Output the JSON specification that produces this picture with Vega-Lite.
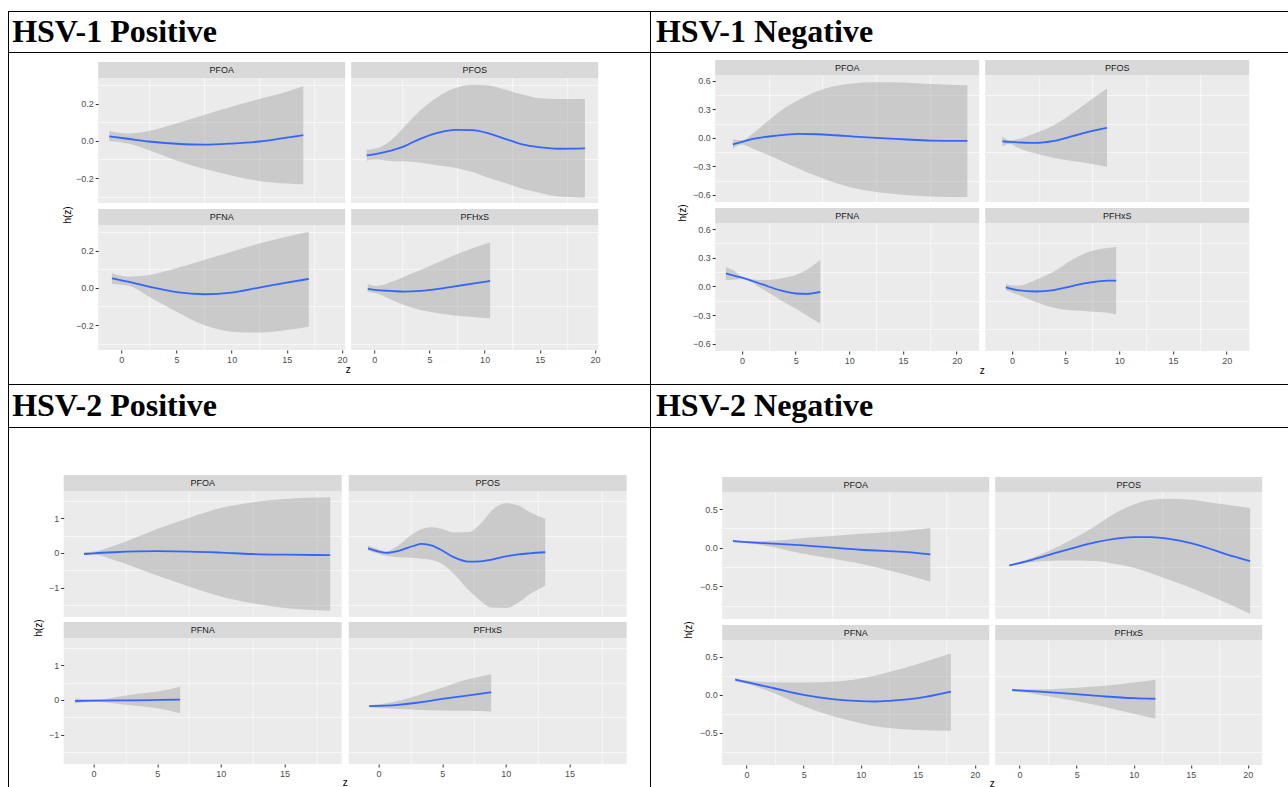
{
"$schema": "https://vega.github.io/schema/vega-lite/v6.json",
"padding": {"left": 8, "top": 11, "right": 0, "bottom": 0},
"background": "white",
"spacing": 0,
"config": {
  "font": "Liberation Sans",
  "view": {"stroke": null},
  "axis": {"domain": false, "grid": true, "gridColor": "white", "tickColor": "#333333", "tickSize": 3, "tickWidth": 1, "labelColor": "#4D4D4D", "labelFontSize": 9, "labelFont": "Liberation Sans", "labelPadding": 2}
},
"datasets": {
"q1": [
{"panel":"PFOA","z":-1.1,"est":0.025,"lo":0.0,"hi":0.054},
{"panel":"PFOA","z":0.6,"est":0.012,"lo":-0.014,"hi":0.04},
{"panel":"PFOA","z":2.5,"est":-0.003,"lo":-0.05,"hi":0.054},
{"panel":"PFOA","z":5,"est":-0.015,"lo":-0.105,"hi":0.094},
{"panel":"PFOA","z":7.5,"est":-0.02,"lo":-0.15,"hi":0.14},
{"panel":"PFOA","z":10,"est":-0.014,"lo":-0.186,"hi":0.185},
{"panel":"PFOA","z":12.5,"est":-0.003,"lo":-0.216,"hi":0.226},
{"panel":"PFOA","z":15,"est":0.018,"lo":-0.23,"hi":0.266},
{"panel":"PFOA","z":16.5,"est":0.031,"lo":-0.234,"hi":0.295},
{"panel":"PFOS","z":-0.7,"est":-0.078,"lo":-0.105,"hi":-0.047},
{"panel":"PFOS","z":0.2,"est":-0.07,"lo":-0.1,"hi":-0.04},
{"panel":"PFOS","z":1.5,"est":-0.052,"lo":-0.108,"hi":0.004},
{"panel":"PFOS","z":2.7,"est":-0.029,"lo":-0.11,"hi":0.076},
{"panel":"PFOS","z":4.2,"est":0.013,"lo":-0.117,"hi":0.167},
{"panel":"PFOS","z":5.8,"est":0.045,"lo":-0.132,"hi":0.24},
{"panel":"PFOS","z":7.3,"est":0.06,"lo":-0.145,"hi":0.284},
{"panel":"PFOS","z":8.9,"est":0.058,"lo":-0.168,"hi":0.304},
{"panel":"PFOS","z":10.4,"est":0.04,"lo":-0.2,"hi":0.3},
{"panel":"PFOS","z":12,"est":0.009,"lo":-0.23,"hi":0.275},
{"panel":"PFOS","z":13.5,"est":-0.02,"lo":-0.259,"hi":0.249},
{"panel":"PFOS","z":15,"est":-0.034,"lo":-0.28,"hi":0.23},
{"panel":"PFOS","z":16.6,"est":-0.042,"lo":-0.3,"hi":0.226},
{"panel":"PFOS","z":19.1,"est":-0.04,"lo":-0.306,"hi":0.226},
{"panel":"PFNA","z":-0.85,"est":0.052,"lo":0.022,"hi":0.079},
{"panel":"PFNA","z":0.6,"est":0.034,"lo":0.013,"hi":0.061},
{"panel":"PFNA","z":2.5,"est":0.007,"lo":-0.047,"hi":0.07},
{"panel":"PFNA","z":5,"est":-0.023,"lo":-0.128,"hi":0.106},
{"panel":"PFNA","z":7.5,"est":-0.034,"lo":-0.2,"hi":0.151},
{"panel":"PFNA","z":10,"est":-0.025,"lo":-0.236,"hi":0.196},
{"panel":"PFNA","z":12.5,"est":0.002,"lo":-0.241,"hi":0.24},
{"panel":"PFNA","z":15,"est":0.029,"lo":-0.227,"hi":0.277},
{"panel":"PFNA","z":17,"est":0.049,"lo":-0.209,"hi":0.304},
{"panel":"PFHxS","z":-0.6,"est":-0.005,"lo":-0.02,"hi":0.02},
{"panel":"PFHxS","z":0.2,"est":-0.012,"lo":-0.029,"hi":0.011},
{"panel":"PFHxS","z":1.45,"est":-0.016,"lo":-0.061,"hi":0.031},
{"panel":"PFHxS","z":2.7,"est":-0.02,"lo":-0.092,"hi":0.061},
{"panel":"PFHxS","z":4.2,"est":-0.016,"lo":-0.119,"hi":0.097},
{"panel":"PFHxS","z":5.8,"est":-0.005,"lo":-0.137,"hi":0.139},
{"panel":"PFHxS","z":7.3,"est":0.009,"lo":-0.149,"hi":0.178},
{"panel":"PFHxS","z":8.9,"est":0.023,"lo":-0.157,"hi":0.214},
{"panel":"PFHxS","z":10.5,"est":0.038,"lo":-0.164,"hi":0.245}
],
"q2": [
{"panel":"PFOA","z":-0.85,"est":-0.067,"lo":-0.113,"hi":-0.014},
{"panel":"PFOA","z":0,"est":-0.042,"lo":-0.07,"hi":-0.025},
{"panel":"PFOA","z":1,"est":-0.01,"lo":-0.113,"hi":0.046},
{"panel":"PFOA","z":2.5,"est":0.015,"lo":-0.183,"hi":0.187},
{"panel":"PFOA","z":3.9,"est":0.032,"lo":-0.253,"hi":0.31},
{"panel":"PFOA","z":5.3,"est":0.042,"lo":-0.324,"hi":0.403},
{"panel":"PFOA","z":7,"est":0.039,"lo":-0.405,"hi":0.491},
{"panel":"PFOA","z":8.7,"est":0.028,"lo":-0.475,"hi":0.547},
{"panel":"PFOA","z":10,"est":0.018,"lo":-0.517,"hi":0.572},
{"panel":"PFOA","z":12.5,"est":0.0,"lo":-0.57,"hi":0.586},
{"panel":"PFOA","z":15,"est":-0.014,"lo":-0.598,"hi":0.583},
{"panel":"PFOA","z":17.6,"est":-0.028,"lo":-0.616,"hi":0.568},
{"panel":"PFOA","z":21,"est":-0.032,"lo":-0.623,"hi":0.556},
{"panel":"PFOS","z":-0.9,"est":-0.035,"lo":-0.088,"hi":0.018},
{"panel":"PFOS","z":-0.2,"est":-0.042,"lo":-0.06,"hi":-0.025},
{"panel":"PFOS","z":0.5,"est":-0.046,"lo":-0.102,"hi":-0.014},
{"panel":"PFOS","z":2.2,"est":-0.053,"lo":-0.165,"hi":0.053},
{"panel":"PFOS","z":3.9,"est":-0.032,"lo":-0.211,"hi":0.134},
{"panel":"PFOS","z":5.6,"est":0.018,"lo":-0.243,"hi":0.257},
{"panel":"PFOS","z":7.3,"est":0.07,"lo":-0.271,"hi":0.398},
{"panel":"PFOS","z":8.85,"est":0.106,"lo":-0.306,"hi":0.521},
{"panel":"PFNA","z":-1.5,"est":0.137,"lo":0.067,"hi":0.2},
{"panel":"PFNA","z":-0.85,"est":0.115,"lo":0.07,"hi":0.172},
{"panel":"PFNA","z":0,"est":0.092,"lo":0.077,"hi":0.102},
{"panel":"PFNA","z":1.9,"est":0.021,"lo":-0.028,"hi":0.067},
{"panel":"PFNA","z":3.6,"est":-0.042,"lo":-0.144,"hi":0.084},
{"panel":"PFNA","z":5,"est":-0.074,"lo":-0.232,"hi":0.12},
{"panel":"PFNA","z":6,"est":-0.077,"lo":-0.302,"hi":0.172},
{"panel":"PFNA","z":7.3,"est":-0.056,"lo":-0.39,"hi":0.278},
{"panel":"PFHxS","z":-0.57,"est":-0.01,"lo":-0.039,"hi":0.025},
{"panel":"PFHxS","z":0.5,"est":-0.039,"lo":-0.085,"hi":0.007},
{"panel":"PFHxS","z":2.2,"est":-0.053,"lo":-0.162,"hi":0.067},
{"panel":"PFHxS","z":3.9,"est":-0.039,"lo":-0.222,"hi":0.155},
{"panel":"PFHxS","z":5.6,"est":0.004,"lo":-0.25,"hi":0.279},
{"panel":"PFHxS","z":7.3,"est":0.042,"lo":-0.261,"hi":0.367},
{"panel":"PFHxS","z":8.9,"est":0.06,"lo":-0.275,"hi":0.402},
{"panel":"PFHxS","z":9.7,"est":0.06,"lo":-0.293,"hi":0.413}
],
"q3": [
{"panel":"PFOA","z":-0.75,"est":-0.03,"lo":-0.06,"hi":0.02},
{"panel":"PFOA","z":0,"est":-0.01,"lo":-0.05,"hi":0.04},
{"panel":"PFOA","z":1.6,"est":0.02,"lo":-0.2,"hi":0.21},
{"panel":"PFOA","z":5,"est":0.05,"lo":-0.65,"hi":0.69},
{"panel":"PFOA","z":7.6,"est":0.04,"lo":-0.98,"hi":1.02},
{"panel":"PFOA","z":10,"est":0.01,"lo":-1.25,"hi":1.29},
{"panel":"PFOA","z":12.4,"est":-0.03,"lo":-1.44,"hi":1.45},
{"panel":"PFOA","z":15,"est":-0.05,"lo":-1.58,"hi":1.55},
{"panel":"PFOA","z":18.6,"est":-0.06,"lo":-1.66,"hi":1.6},
{"panel":"PFOS","z":-0.83,"est":0.13,"lo":0.07,"hi":0.21},
{"panel":"PFOS","z":0,"est":0.04,"lo":-0.03,"hi":0.11},
{"panel":"PFOS","z":0.6,"est":0.0,"lo":-0.08,"hi":0.05},
{"panel":"PFOS","z":1.5,"est":0.05,"lo":-0.12,"hi":0.21},
{"panel":"PFOS","z":2.7,"est":0.2,"lo":-0.14,"hi":0.55},
{"panel":"PFOS","z":3.4,"est":0.26,"lo":-0.17,"hi":0.69},
{"panel":"PFOS","z":4.2,"est":0.21,"lo":-0.2,"hi":0.74},
{"panel":"PFOS","z":5,"est":0.07,"lo":-0.32,"hi":0.69},
{"panel":"PFOS","z":5.9,"est":-0.12,"lo":-0.6,"hi":0.59},
{"panel":"PFOS","z":7.1,"est":-0.25,"lo":-1.08,"hi":0.6},
{"panel":"PFOS","z":8,"est":-0.24,"lo":-1.37,"hi":0.83},
{"panel":"PFOS","z":8.9,"est":-0.19,"lo":-1.57,"hi":1.22},
{"panel":"PFOS","z":10,"est":-0.1,"lo":-1.58,"hi":1.43},
{"panel":"PFOS","z":11,"est":-0.04,"lo":-1.42,"hi":1.36},
{"panel":"PFOS","z":11.9,"est":-0.01,"lo":-1.18,"hi":1.17},
{"panel":"PFOS","z":13.1,"est":0.02,"lo":-0.94,"hi":0.98},
{"panel":"PFNA","z":-1.45,"est":-0.03,"lo":-0.1,"hi":0.05},
{"panel":"PFNA","z":0,"est":-0.02,"lo":-0.05,"hi":0.01},
{"panel":"PFNA","z":3.1,"est":-0.01,"lo":-0.16,"hi":0.16},
{"panel":"PFNA","z":5,"est":0.0,"lo":-0.24,"hi":0.24},
{"panel":"PFNA","z":6.8,"est":0.01,"lo":-0.38,"hi":0.38},
{"panel":"PFHxS","z":-0.74,"est":-0.18,"lo":-0.22,"hi":-0.16},
{"panel":"PFHxS","z":1.5,"est":-0.14,"lo":-0.26,"hi":-0.03},
{"panel":"PFHxS","z":3,"est":-0.08,"lo":-0.28,"hi":0.12},
{"panel":"PFHxS","z":5,"est":0.03,"lo":-0.3,"hi":0.35},
{"panel":"PFHxS","z":6.8,"est":0.12,"lo":-0.31,"hi":0.57},
{"panel":"PFHxS","z":8.85,"est":0.22,"lo":-0.33,"hi":0.74}
],
"q4": [
{"panel":"PFOA","z":-1.2,"est":0.086,"lo":0.073,"hi":0.108},
{"panel":"PFOA","z":0,"est":0.073,"lo":0.06,"hi":0.086},
{"panel":"PFOA","z":1.5,"est":0.06,"lo":0.03,"hi":0.086},
{"panel":"PFOA","z":5,"est":0.03,"lo":-0.078,"hi":0.125},
{"panel":"PFOA","z":10,"est":-0.026,"lo":-0.207,"hi":0.181},
{"panel":"PFOA","z":15,"est":-0.069,"lo":-0.39,"hi":0.237},
{"panel":"PFOA","z":16.1,"est":-0.086,"lo":-0.435,"hi":0.259},
{"panel":"PFOS","z":-0.9,"est":-0.228,"lo":-0.241,"hi":-0.216},
{"panel":"PFOS","z":1.1,"est":-0.155,"lo":-0.185,"hi":-0.129},
{"panel":"PFOS","z":3.4,"est":-0.056,"lo":-0.164,"hi":0.017},
{"panel":"PFOS","z":5,"est":0.009,"lo":-0.164,"hi":0.138},
{"panel":"PFOS","z":6.7,"est":0.073,"lo":-0.172,"hi":0.289},
{"panel":"PFOS","z":8.3,"est":0.116,"lo":-0.207,"hi":0.44},
{"panel":"PFOS","z":10,"est":0.138,"lo":-0.259,"hi":0.56},
{"panel":"PFOS","z":11.5,"est":0.138,"lo":-0.328,"hi":0.62},
{"panel":"PFOS","z":13.1,"est":0.116,"lo":-0.414,"hi":0.634},
{"panel":"PFOS","z":15,"est":0.06,"lo":-0.517,"hi":0.62},
{"panel":"PFOS","z":16.4,"est":0.0,"lo":-0.603,"hi":0.59},
{"panel":"PFOS","z":18,"est":-0.078,"lo":-0.703,"hi":0.56},
{"panel":"PFOS","z":20.2,"est":-0.172,"lo":-0.853,"hi":0.513},
{"panel":"PFNA","z":-1,"est":0.2,"lo":0.179,"hi":0.222},
{"panel":"PFNA","z":0,"est":0.167,"lo":0.145,"hi":0.19},
{"panel":"PFNA","z":2.4,"est":0.087,"lo":0.021,"hi":0.165},
{"panel":"PFNA","z":5,"est":0.0,"lo":-0.15,"hi":0.162},
{"panel":"PFNA","z":7.5,"est":-0.056,"lo":-0.278,"hi":0.171},
{"panel":"PFNA","z":10,"est":-0.083,"lo":-0.372,"hi":0.214},
{"panel":"PFNA","z":11.2,"est":-0.087,"lo":-0.408,"hi":0.25},
{"panel":"PFNA","z":12.5,"est":-0.078,"lo":-0.436,"hi":0.299},
{"panel":"PFNA","z":15,"est":-0.043,"lo":-0.462,"hi":0.406},
{"panel":"PFNA","z":17.9,"est":0.043,"lo":-0.47,"hi":0.543},
{"panel":"PFHxS","z":-0.65,"est":0.064,"lo":0.051,"hi":0.077},
{"panel":"PFHxS","z":1.8,"est":0.043,"lo":0.0,"hi":0.073},
{"panel":"PFHxS","z":5,"est":0.009,"lo":-0.085,"hi":0.094},
{"panel":"PFHxS","z":7.5,"est":-0.021,"lo":-0.158,"hi":0.12},
{"panel":"PFHxS","z":10,"est":-0.043,"lo":-0.248,"hi":0.162},
{"panel":"PFHxS","z":11.9,"est":-0.051,"lo":-0.312,"hi":0.2}
]
},
"vconcat": [
{"hconcat": [
 {"vconcat": [
  {"hconcat": [
    {"width": 1, "height": 42, "data": {"values": [{}]}, "mark": {"type": "rect", "opacity": 0}, "encoding": {}, "view": {"fill": "black"}},
    {"vconcat": [
      {"width": 641, "height": 1, "data": {"values": [{}]}, "mark": {"type": "rect", "opacity": 0}, "encoding": {}, "view": {"fill": "black"}},
      {"width": 211, "height": 40, "data": {"values": [{}]}, "mark": {"type": "text", "text": "HSV-1 Positive", "font": "Liberation Serif", "fontSize": 32, "fontWeight": "bold", "color": "black"}},
      {"width": 641, "height": 1, "data": {"values": [{}]}, "mark": {"type": "rect", "opacity": 0}, "encoding": {}, "view": {"fill": "black"}}
    ], "spacing": 0}
  ], "spacing": 0},
  {"hconcat": [
    {"width": 1, "height": 331, "data": {"values": [{}]}, "mark": {"type": "rect", "opacity": 0}, "encoding": {}, "view": {"fill": "black"}},
    {"hconcat": [
      {"vconcat": [
        {"width": 14, "height": 142, "data": {"values": [{}]}, "mark": {"type": "rect", "opacity": 0}, "encoding": {}},
        {"width": 14, "height": 40, "data": {"values": [{}]}, "mark": {"type": "text", "text": "h(z)", "angle": 270, "fontSize": 10, "color": "black"}}
      ], "spacing": 0},
      {"vconcat": [
        {"width": 1, "height": 9, "data": {"values": [{}]}, "mark": {"type": "rect", "opacity": 0}, "encoding": {}},
        {"concat": [
          {"vconcat": [
            {"width": 247, "height": 16, "data": {"values": [{}]}, "mark": {"type": "text", "text": "PFOA", "fontSize": 9, "color": "#1A1A1A"}, "view": {"fill": "#D9D9D9"}},
            {"width": 247, "height": 125, "data": {"name": "q1"}, "transform": [{"filter": {"field": "panel", "equal": "PFOA"}}], "view": {"fill": "#EBEBEB"},
             "layer": [
              {"mark": {"type": "area", "fill": "#999999", "opacity": 0.4, "interpolate": "monotone"},
               "encoding": {"x": {"field": "z", "type": "quantitative", "scale": {"domain": [-2.1, 20.3], "nice": false, "zero": false}, "axis": {"orient": "bottom", "values": [2.5, 7.5, 12.5, 17.5], "gridWidth": 0.6, "labels": false, "ticks": false, "title": null}},
                            "y": {"field": "lo", "type": "quantitative", "scale": {"domain": [-0.335, 0.34], "nice": false, "zero": false}, "axis": {"orient": "left", "values": [-0.3, -0.1, 0.1, 0.3], "gridWidth": 0.6, "labels": false, "ticks": false, "title": null}},
                            "y2": {"field": "hi"}}},
              {"mark": {"type": "line", "color": "#3366FF", "strokeWidth": 1.8, "interpolate": "monotone"},
               "encoding": {"x": {"field": "z", "type": "quantitative", "scale": {"domain": [-2.1, 20.3], "nice": false, "zero": false}, "axis": {"orient": "bottom", "values": [0, 5, 10, 15, 20], "gridWidth": 1.2, "labels": false, "ticks": false, "title": null}},
                            "y": {"field": "est", "type": "quantitative", "scale": {"domain": [-0.335, 0.34], "nice": false, "zero": false}, "axis": {"orient": "left", "values": [-0.2, 0, 0.2], "gridWidth": 1.2, "format": ".1f", "title": null}}}}
             ],
             "resolve": {"axis": {"x": "independent", "y": "independent"}}}
          ], "spacing": 0},
          {"vconcat": [
            {"width": 247, "height": 16, "data": {"values": [{}]}, "mark": {"type": "text", "text": "PFOS", "fontSize": 9, "color": "#1A1A1A"}, "view": {"fill": "#D9D9D9"}},
            {"width": 247, "height": 125, "data": {"name": "q1"}, "transform": [{"filter": {"field": "panel", "equal": "PFOS"}}], "view": {"fill": "#EBEBEB"},
             "layer": [
              {"mark": {"type": "area", "fill": "#999999", "opacity": 0.4, "interpolate": "monotone"},
               "encoding": {"x": {"field": "z", "type": "quantitative", "scale": {"domain": [-2.1, 20.3], "nice": false, "zero": false}, "axis": {"orient": "bottom", "values": [2.5, 7.5, 12.5, 17.5], "gridWidth": 0.6, "labels": false, "ticks": false, "title": null}},
                            "y": {"field": "lo", "type": "quantitative", "scale": {"domain": [-0.335, 0.34], "nice": false, "zero": false}, "axis": {"orient": "left", "values": [-0.3, -0.1, 0.1, 0.3], "gridWidth": 0.6, "labels": false, "ticks": false, "title": null}},
                            "y2": {"field": "hi"}}},
              {"mark": {"type": "line", "color": "#3366FF", "strokeWidth": 1.8, "interpolate": "monotone"},
               "encoding": {"x": {"field": "z", "type": "quantitative", "scale": {"domain": [-2.1, 20.3], "nice": false, "zero": false}, "axis": {"orient": "bottom", "values": [0, 5, 10, 15, 20], "gridWidth": 1.2, "labels": false, "ticks": false, "title": null}},
                            "y": {"field": "est", "type": "quantitative", "scale": {"domain": [-0.335, 0.34], "nice": false, "zero": false}, "axis": {"orient": "left", "values": [-0.2, 0, 0.2], "gridWidth": 1.2, "labels": false, "ticks": false, "title": null}}}}
             ],
             "resolve": {"axis": {"x": "independent", "y": "independent"}}}
          ], "spacing": 0},
          {"vconcat": [
            {"width": 247, "height": 16, "data": {"values": [{}]}, "mark": {"type": "text", "text": "PFNA", "fontSize": 9, "color": "#1A1A1A"}, "view": {"fill": "#D9D9D9"}},
            {"width": 247, "height": 125, "data": {"name": "q1"}, "transform": [{"filter": {"field": "panel", "equal": "PFNA"}}], "view": {"fill": "#EBEBEB"},
             "layer": [
              {"mark": {"type": "area", "fill": "#999999", "opacity": 0.4, "interpolate": "monotone"},
               "encoding": {"x": {"field": "z", "type": "quantitative", "scale": {"domain": [-2.1, 20.3], "nice": false, "zero": false}, "axis": {"orient": "bottom", "values": [2.5, 7.5, 12.5, 17.5], "gridWidth": 0.6, "labels": false, "ticks": false, "title": null}},
                            "y": {"field": "lo", "type": "quantitative", "scale": {"domain": [-0.335, 0.34], "nice": false, "zero": false}, "axis": {"orient": "left", "values": [-0.3, -0.1, 0.1, 0.3], "gridWidth": 0.6, "labels": false, "ticks": false, "title": null}},
                            "y2": {"field": "hi"}}},
              {"mark": {"type": "line", "color": "#3366FF", "strokeWidth": 1.8, "interpolate": "monotone"},
               "encoding": {"x": {"field": "z", "type": "quantitative", "scale": {"domain": [-2.1, 20.3], "nice": false, "zero": false}, "axis": {"orient": "bottom", "values": [0, 5, 10, 15, 20], "gridWidth": 1.2, "format": "d", "title": null}},
                            "y": {"field": "est", "type": "quantitative", "scale": {"domain": [-0.335, 0.34], "nice": false, "zero": false}, "axis": {"orient": "left", "values": [-0.2, 0, 0.2], "gridWidth": 1.2, "format": ".1f", "title": null}}}}
             ],
             "resolve": {"axis": {"x": "independent", "y": "independent"}}}
          ], "spacing": 0},
          {"vconcat": [
            {"width": 247, "height": 16, "data": {"values": [{}]}, "mark": {"type": "text", "text": "PFHxS", "fontSize": 9, "color": "#1A1A1A"}, "view": {"fill": "#D9D9D9"}},
            {"width": 247, "height": 125, "data": {"name": "q1"}, "transform": [{"filter": {"field": "panel", "equal": "PFHxS"}}], "view": {"fill": "#EBEBEB"},
             "layer": [
              {"mark": {"type": "area", "fill": "#999999", "opacity": 0.4, "interpolate": "monotone"},
               "encoding": {"x": {"field": "z", "type": "quantitative", "scale": {"domain": [-2.1, 20.3], "nice": false, "zero": false}, "axis": {"orient": "bottom", "values": [2.5, 7.5, 12.5, 17.5], "gridWidth": 0.6, "labels": false, "ticks": false, "title": null}},
                            "y": {"field": "lo", "type": "quantitative", "scale": {"domain": [-0.335, 0.34], "nice": false, "zero": false}, "axis": {"orient": "left", "values": [-0.3, -0.1, 0.1, 0.3], "gridWidth": 0.6, "labels": false, "ticks": false, "title": null}},
                            "y2": {"field": "hi"}}},
              {"mark": {"type": "line", "color": "#3366FF", "strokeWidth": 1.8, "interpolate": "monotone"},
               "encoding": {"x": {"field": "z", "type": "quantitative", "scale": {"domain": [-2.1, 20.3], "nice": false, "zero": false}, "axis": {"orient": "bottom", "values": [0, 5, 10, 15, 20], "gridWidth": 1.2, "format": "d", "title": null}},
                            "y": {"field": "est", "type": "quantitative", "scale": {"domain": [-0.335, 0.34], "nice": false, "zero": false}, "axis": {"orient": "left", "values": [-0.2, 0, 0.2], "gridWidth": 1.2, "labels": false, "ticks": false, "title": null}}}}
             ],
             "resolve": {"axis": {"x": "independent", "y": "independent"}}}
          ], "spacing": 0}
        ], "columns": 2, "align": "each", "spacing": {"row": 6, "column": 4}},
        {"width": 500, "height": 12, "data": {"values": [{}]}, "mark": {"type": "text", "text": "z", "fontSize": 10, "color": "black"}}
      ], "spacing": 0}
    ], "spacing": 0.6}
  ], "spacing": 51.6}
 ], "spacing": 0},
 {"vconcat": [
  {"hconcat": [
    {"width": 1, "height": 42, "data": {"values": [{}]}, "mark": {"type": "rect", "opacity": 0}, "encoding": {}, "view": {"fill": "black"}},
    {"vconcat": [
      {"width": 637, "height": 1, "data": {"values": [{}]}, "mark": {"type": "rect", "opacity": 0}, "encoding": {}, "view": {"fill": "black"}},
      {"width": 227, "height": 40, "data": {"values": [{}]}, "mark": {"type": "text", "text": "HSV-1 Negative", "font": "Liberation Serif", "fontSize": 32, "fontWeight": "bold", "color": "black"}},
      {"width": 637, "height": 1, "data": {"values": [{}]}, "mark": {"type": "rect", "opacity": 0}, "encoding": {}, "view": {"fill": "black"}}
    ], "spacing": 0}
  ], "spacing": 0},
  {"hconcat": [
    {"width": 1, "height": 331, "data": {"values": [{}]}, "mark": {"type": "rect", "opacity": 0}, "encoding": {}, "view": {"fill": "black"}},
    {"hconcat": [
      {"vconcat": [
        {"width": 14, "height": 140, "data": {"values": [{}]}, "mark": {"type": "rect", "opacity": 0}, "encoding": {}},
        {"width": 14, "height": 40, "data": {"values": [{}]}, "mark": {"type": "text", "text": "h(z)", "angle": 270, "fontSize": 10, "color": "black"}}
      ], "spacing": 0},
      {"vconcat": [
        {"width": 1, "height": 7, "data": {"values": [{}]}, "mark": {"type": "rect", "opacity": 0}, "encoding": {}},
        {"concat": [
          {"vconcat": [
            {"width": 264, "height": 15, "data": {"values": [{}]}, "mark": {"type": "text", "text": "PFOA", "fontSize": 9, "color": "#1A1A1A"}, "view": {"fill": "#D9D9D9"}},
            {"width": 264, "height": 127, "data": {"name": "q2"}, "transform": [{"filter": {"field": "panel", "equal": "PFOA"}}], "view": {"fill": "#EBEBEB"},
             "layer": [
              {"mark": {"type": "area", "fill": "#999999", "opacity": 0.4, "interpolate": "monotone"},
               "encoding": {"x": {"field": "z", "type": "quantitative", "scale": {"domain": [-2.5, 22.1], "nice": false, "zero": false}, "axis": {"orient": "bottom", "values": [2.5, 7.5, 12.5, 17.5], "gridWidth": 0.6, "labels": false, "ticks": false, "title": null}},
                            "y": {"field": "lo", "type": "quantitative", "scale": {"domain": [-0.675, 0.663], "nice": false, "zero": false}, "axis": {"orient": "left", "values": [-0.45, -0.15, 0.15, 0.45], "gridWidth": 0.6, "labels": false, "ticks": false, "title": null}},
                            "y2": {"field": "hi"}}},
              {"mark": {"type": "line", "color": "#3366FF", "strokeWidth": 1.8, "interpolate": "monotone"},
               "encoding": {"x": {"field": "z", "type": "quantitative", "scale": {"domain": [-2.5, 22.1], "nice": false, "zero": false}, "axis": {"orient": "bottom", "values": [0, 5, 10, 15, 20], "gridWidth": 1.2, "labels": false, "ticks": false, "title": null}},
                            "y": {"field": "est", "type": "quantitative", "scale": {"domain": [-0.675, 0.663], "nice": false, "zero": false}, "axis": {"orient": "left", "values": [-0.6, -0.3, 0, 0.3, 0.6], "gridWidth": 1.2, "format": ".1f", "title": null}}}}
             ],
             "resolve": {"axis": {"x": "independent", "y": "independent"}}}
          ], "spacing": 0},
          {"vconcat": [
            {"width": 264, "height": 15, "data": {"values": [{}]}, "mark": {"type": "text", "text": "PFOS", "fontSize": 9, "color": "#1A1A1A"}, "view": {"fill": "#D9D9D9"}},
            {"width": 264, "height": 127, "data": {"name": "q2"}, "transform": [{"filter": {"field": "panel", "equal": "PFOS"}}], "view": {"fill": "#EBEBEB"},
             "layer": [
              {"mark": {"type": "area", "fill": "#999999", "opacity": 0.4, "interpolate": "monotone"},
               "encoding": {"x": {"field": "z", "type": "quantitative", "scale": {"domain": [-2.5, 22.1], "nice": false, "zero": false}, "axis": {"orient": "bottom", "values": [2.5, 7.5, 12.5, 17.5], "gridWidth": 0.6, "labels": false, "ticks": false, "title": null}},
                            "y": {"field": "lo", "type": "quantitative", "scale": {"domain": [-0.675, 0.663], "nice": false, "zero": false}, "axis": {"orient": "left", "values": [-0.45, -0.15, 0.15, 0.45], "gridWidth": 0.6, "labels": false, "ticks": false, "title": null}},
                            "y2": {"field": "hi"}}},
              {"mark": {"type": "line", "color": "#3366FF", "strokeWidth": 1.8, "interpolate": "monotone"},
               "encoding": {"x": {"field": "z", "type": "quantitative", "scale": {"domain": [-2.5, 22.1], "nice": false, "zero": false}, "axis": {"orient": "bottom", "values": [0, 5, 10, 15, 20], "gridWidth": 1.2, "labels": false, "ticks": false, "title": null}},
                            "y": {"field": "est", "type": "quantitative", "scale": {"domain": [-0.675, 0.663], "nice": false, "zero": false}, "axis": {"orient": "left", "values": [-0.6, -0.3, 0, 0.3, 0.6], "gridWidth": 1.2, "labels": false, "ticks": false, "title": null}}}}
             ],
             "resolve": {"axis": {"x": "independent", "y": "independent"}}}
          ], "spacing": 0},
          {"vconcat": [
            {"width": 264, "height": 15, "data": {"values": [{}]}, "mark": {"type": "text", "text": "PFNA", "fontSize": 9, "color": "#1A1A1A"}, "view": {"fill": "#D9D9D9"}},
            {"width": 264, "height": 128, "data": {"name": "q2"}, "transform": [{"filter": {"field": "panel", "equal": "PFNA"}}], "view": {"fill": "#EBEBEB"},
             "layer": [
              {"mark": {"type": "area", "fill": "#999999", "opacity": 0.4, "interpolate": "monotone"},
               "encoding": {"x": {"field": "z", "type": "quantitative", "scale": {"domain": [-2.5, 22.1], "nice": false, "zero": false}, "axis": {"orient": "bottom", "values": [2.5, 7.5, 12.5, 17.5], "gridWidth": 0.6, "labels": false, "ticks": false, "title": null}},
                            "y": {"field": "lo", "type": "quantitative", "scale": {"domain": [-0.675, 0.663], "nice": false, "zero": false}, "axis": {"orient": "left", "values": [-0.45, -0.15, 0.15, 0.45], "gridWidth": 0.6, "labels": false, "ticks": false, "title": null}},
                            "y2": {"field": "hi"}}},
              {"mark": {"type": "line", "color": "#3366FF", "strokeWidth": 1.8, "interpolate": "monotone"},
               "encoding": {"x": {"field": "z", "type": "quantitative", "scale": {"domain": [-2.5, 22.1], "nice": false, "zero": false}, "axis": {"orient": "bottom", "values": [0, 5, 10, 15, 20], "gridWidth": 1.2, "format": "d", "title": null}},
                            "y": {"field": "est", "type": "quantitative", "scale": {"domain": [-0.675, 0.663], "nice": false, "zero": false}, "axis": {"orient": "left", "values": [-0.6, -0.3, 0, 0.3, 0.6], "gridWidth": 1.2, "format": ".1f", "title": null}}}}
             ],
             "resolve": {"axis": {"x": "independent", "y": "independent"}}}
          ], "spacing": 0},
          {"vconcat": [
            {"width": 264, "height": 15, "data": {"values": [{}]}, "mark": {"type": "text", "text": "PFHxS", "fontSize": 9, "color": "#1A1A1A"}, "view": {"fill": "#D9D9D9"}},
            {"width": 264, "height": 128, "data": {"name": "q2"}, "transform": [{"filter": {"field": "panel", "equal": "PFHxS"}}], "view": {"fill": "#EBEBEB"},
             "layer": [
              {"mark": {"type": "area", "fill": "#999999", "opacity": 0.4, "interpolate": "monotone"},
               "encoding": {"x": {"field": "z", "type": "quantitative", "scale": {"domain": [-2.5, 22.1], "nice": false, "zero": false}, "axis": {"orient": "bottom", "values": [2.5, 7.5, 12.5, 17.5], "gridWidth": 0.6, "labels": false, "ticks": false, "title": null}},
                            "y": {"field": "lo", "type": "quantitative", "scale": {"domain": [-0.675, 0.663], "nice": false, "zero": false}, "axis": {"orient": "left", "values": [-0.45, -0.15, 0.15, 0.45], "gridWidth": 0.6, "labels": false, "ticks": false, "title": null}},
                            "y2": {"field": "hi"}}},
              {"mark": {"type": "line", "color": "#3366FF", "strokeWidth": 1.8, "interpolate": "monotone"},
               "encoding": {"x": {"field": "z", "type": "quantitative", "scale": {"domain": [-2.5, 22.1], "nice": false, "zero": false}, "axis": {"orient": "bottom", "values": [0, 5, 10, 15, 20], "gridWidth": 1.2, "format": "d", "title": null}},
                            "y": {"field": "est", "type": "quantitative", "scale": {"domain": [-0.675, 0.663], "nice": false, "zero": false}, "axis": {"orient": "left", "values": [-0.6, -0.3, 0, 0.3, 0.6], "gridWidth": 1.2, "labels": false, "ticks": false, "title": null}}}}
             ],
             "resolve": {"axis": {"x": "independent", "y": "independent"}}}
          ], "spacing": 0}
        ], "columns": 2, "align": "each", "spacing": {"row": 6, "column": 6}},
        {"width": 534, "height": 11.4, "data": {"values": [{}]}, "mark": {"type": "text", "text": "z", "fontSize": 10, "color": "black"}}
      ], "spacing": 0}
    ], "spacing": 2.7}
  ], "spacing": 24.5}
 ], "spacing": 0}
], "spacing": 0},
{"hconcat": [
 {"vconcat": [
  {"hconcat": [
    {"width": 1, "height": 44, "data": {"values": [{}]}, "mark": {"type": "rect", "opacity": 0}, "encoding": {}, "view": {"fill": "black"}},
    {"vconcat": [
      {"width": 641, "height": 1, "data": {"values": [{}]}, "mark": {"type": "rect", "opacity": 0}, "encoding": {}, "view": {"fill": "black"}},
      {"width": 211, "height": 42, "data": {"values": [{}]}, "mark": {"type": "text", "text": "HSV-2 Positive", "font": "Liberation Serif", "fontSize": 32, "fontWeight": "bold", "color": "black"}},
      {"width": 641, "height": 1, "data": {"values": [{}]}, "mark": {"type": "rect", "opacity": 0}, "encoding": {}, "view": {"fill": "black"}}
    ], "spacing": 0}
  ], "spacing": 0},
  {"hconcat": [
    {"width": 1, "height": 359, "data": {"values": [{}]}, "mark": {"type": "rect", "opacity": 0}, "encoding": {}, "view": {"fill": "black"}},
    {"hconcat": [
      {"vconcat": [
        {"width": 14, "height": 180, "data": {"values": [{}]}, "mark": {"type": "rect", "opacity": 0}, "encoding": {}},
        {"width": 14, "height": 40, "data": {"values": [{}]}, "mark": {"type": "text", "text": "h(z)", "angle": 270, "fontSize": 10, "color": "black"}}
      ], "spacing": 0},
      {"vconcat": [
        {"width": 1, "height": 47, "data": {"values": [{}]}, "mark": {"type": "rect", "opacity": 0}, "encoding": {}},
        {"concat": [
          {"vconcat": [
            {"width": 278, "height": 16, "data": {"values": [{}]}, "mark": {"type": "text", "text": "PFOA", "fontSize": 9, "color": "#1A1A1A"}, "view": {"fill": "#D9D9D9"}},
            {"width": 278, "height": 126, "data": {"name": "q3"}, "transform": [{"filter": {"field": "panel", "equal": "PFOA"}}], "view": {"fill": "#EBEBEB"},
             "layer": [
              {"mark": {"type": "area", "fill": "#999999", "opacity": 0.4, "interpolate": "monotone"},
               "encoding": {"x": {"field": "z", "type": "quantitative", "scale": {"domain": [-2.35, 19.5], "nice": false, "zero": false}, "axis": {"orient": "bottom", "values": [2.5, 7.5, 12.5, 17.5], "gridWidth": 0.6, "labels": false, "ticks": false, "title": null}},
                            "y": {"field": "lo", "type": "quantitative", "scale": {"domain": [-1.84, 1.78], "nice": false, "zero": false}, "axis": {"orient": "left", "values": [-1.5, -0.5, 0.5, 1.5], "gridWidth": 0.6, "labels": false, "ticks": false, "title": null}},
                            "y2": {"field": "hi"}}},
              {"mark": {"type": "line", "color": "#3366FF", "strokeWidth": 1.8, "interpolate": "monotone"},
               "encoding": {"x": {"field": "z", "type": "quantitative", "scale": {"domain": [-2.35, 19.5], "nice": false, "zero": false}, "axis": {"orient": "bottom", "values": [0, 5, 10, 15], "gridWidth": 1.2, "labels": false, "ticks": false, "title": null}},
                            "y": {"field": "est", "type": "quantitative", "scale": {"domain": [-1.84, 1.78], "nice": false, "zero": false}, "axis": {"orient": "left", "values": [-1, 0, 1], "gridWidth": 1.2, "format": "d", "title": null}}}}
             ],
             "resolve": {"axis": {"x": "independent", "y": "independent"}}}
          ], "spacing": 0},
          {"vconcat": [
            {"width": 278, "height": 16, "data": {"values": [{}]}, "mark": {"type": "text", "text": "PFOS", "fontSize": 9, "color": "#1A1A1A"}, "view": {"fill": "#D9D9D9"}},
            {"width": 278, "height": 126, "data": {"name": "q3"}, "transform": [{"filter": {"field": "panel", "equal": "PFOS"}}], "view": {"fill": "#EBEBEB"},
             "layer": [
              {"mark": {"type": "area", "fill": "#999999", "opacity": 0.4, "interpolate": "monotone"},
               "encoding": {"x": {"field": "z", "type": "quantitative", "scale": {"domain": [-2.35, 19.5], "nice": false, "zero": false}, "axis": {"orient": "bottom", "values": [2.5, 7.5, 12.5, 17.5], "gridWidth": 0.6, "labels": false, "ticks": false, "title": null}},
                            "y": {"field": "lo", "type": "quantitative", "scale": {"domain": [-1.84, 1.78], "nice": false, "zero": false}, "axis": {"orient": "left", "values": [-1.5, -0.5, 0.5, 1.5], "gridWidth": 0.6, "labels": false, "ticks": false, "title": null}},
                            "y2": {"field": "hi"}}},
              {"mark": {"type": "line", "color": "#3366FF", "strokeWidth": 1.8, "interpolate": "monotone"},
               "encoding": {"x": {"field": "z", "type": "quantitative", "scale": {"domain": [-2.35, 19.5], "nice": false, "zero": false}, "axis": {"orient": "bottom", "values": [0, 5, 10, 15], "gridWidth": 1.2, "labels": false, "ticks": false, "title": null}},
                            "y": {"field": "est", "type": "quantitative", "scale": {"domain": [-1.84, 1.78], "nice": false, "zero": false}, "axis": {"orient": "left", "values": [-1, 0, 1], "gridWidth": 1.2, "labels": false, "ticks": false, "title": null}}}}
             ],
             "resolve": {"axis": {"x": "independent", "y": "independent"}}}
          ], "spacing": 0},
          {"vconcat": [
            {"width": 278, "height": 16, "data": {"values": [{}]}, "mark": {"type": "text", "text": "PFNA", "fontSize": 9, "color": "#1A1A1A"}, "view": {"fill": "#D9D9D9"}},
            {"width": 278, "height": 126, "data": {"name": "q3"}, "transform": [{"filter": {"field": "panel", "equal": "PFNA"}}], "view": {"fill": "#EBEBEB"},
             "layer": [
              {"mark": {"type": "area", "fill": "#999999", "opacity": 0.4, "interpolate": "monotone"},
               "encoding": {"x": {"field": "z", "type": "quantitative", "scale": {"domain": [-2.35, 19.5], "nice": false, "zero": false}, "axis": {"orient": "bottom", "values": [2.5, 7.5, 12.5, 17.5], "gridWidth": 0.6, "labels": false, "ticks": false, "title": null}},
                            "y": {"field": "lo", "type": "quantitative", "scale": {"domain": [-1.84, 1.78], "nice": false, "zero": false}, "axis": {"orient": "left", "values": [-1.5, -0.5, 0.5, 1.5], "gridWidth": 0.6, "labels": false, "ticks": false, "title": null}},
                            "y2": {"field": "hi"}}},
              {"mark": {"type": "line", "color": "#3366FF", "strokeWidth": 1.8, "interpolate": "monotone"},
               "encoding": {"x": {"field": "z", "type": "quantitative", "scale": {"domain": [-2.35, 19.5], "nice": false, "zero": false}, "axis": {"orient": "bottom", "values": [0, 5, 10, 15], "gridWidth": 1.2, "format": "d", "title": null}},
                            "y": {"field": "est", "type": "quantitative", "scale": {"domain": [-1.84, 1.78], "nice": false, "zero": false}, "axis": {"orient": "left", "values": [-1, 0, 1], "gridWidth": 1.2, "format": "d", "title": null}}}}
             ],
             "resolve": {"axis": {"x": "independent", "y": "independent"}}}
          ], "spacing": 0},
          {"vconcat": [
            {"width": 278, "height": 16, "data": {"values": [{}]}, "mark": {"type": "text", "text": "PFHxS", "fontSize": 9, "color": "#1A1A1A"}, "view": {"fill": "#D9D9D9"}},
            {"width": 278, "height": 126, "data": {"name": "q3"}, "transform": [{"filter": {"field": "panel", "equal": "PFHxS"}}], "view": {"fill": "#EBEBEB"},
             "layer": [
              {"mark": {"type": "area", "fill": "#999999", "opacity": 0.4, "interpolate": "monotone"},
               "encoding": {"x": {"field": "z", "type": "quantitative", "scale": {"domain": [-2.35, 19.5], "nice": false, "zero": false}, "axis": {"orient": "bottom", "values": [2.5, 7.5, 12.5, 17.5], "gridWidth": 0.6, "labels": false, "ticks": false, "title": null}},
                            "y": {"field": "lo", "type": "quantitative", "scale": {"domain": [-1.84, 1.78], "nice": false, "zero": false}, "axis": {"orient": "left", "values": [-1.5, -0.5, 0.5, 1.5], "gridWidth": 0.6, "labels": false, "ticks": false, "title": null}},
                            "y2": {"field": "hi"}}},
              {"mark": {"type": "line", "color": "#3366FF", "strokeWidth": 1.8, "interpolate": "monotone"},
               "encoding": {"x": {"field": "z", "type": "quantitative", "scale": {"domain": [-2.35, 19.5], "nice": false, "zero": false}, "axis": {"orient": "bottom", "values": [0, 5, 10, 15], "gridWidth": 1.2, "format": "d", "title": null}},
                            "y": {"field": "est", "type": "quantitative", "scale": {"domain": [-1.84, 1.78], "nice": false, "zero": false}, "axis": {"orient": "left", "values": [-1, 0, 1], "gridWidth": 1.2, "labels": false, "ticks": false, "title": null}}}}
             ],
             "resolve": {"axis": {"x": "independent", "y": "independent"}}}
          ], "spacing": 0}
        ], "columns": 2, "align": "each", "spacing": {"row": 5, "column": 7}},
        {"width": 563, "height": 6, "data": {"values": [{}]}, "mark": {"type": "text", "text": "z", "fontSize": 10, "color": "black"}}
      ], "spacing": 0}
    ], "spacing": 1.3}
  ], "spacing": 23.4}
 ], "spacing": 0},
 {"vconcat": [
  {"hconcat": [
    {"width": 1, "height": 44, "data": {"values": [{}]}, "mark": {"type": "rect", "opacity": 0}, "encoding": {}, "view": {"fill": "black"}},
    {"vconcat": [
      {"width": 637, "height": 1, "data": {"values": [{}]}, "mark": {"type": "rect", "opacity": 0}, "encoding": {}, "view": {"fill": "black"}},
      {"width": 227, "height": 42, "data": {"values": [{}]}, "mark": {"type": "text", "text": "HSV-2 Negative", "font": "Liberation Serif", "fontSize": 32, "fontWeight": "bold", "color": "black"}},
      {"width": 637, "height": 1, "data": {"values": [{}]}, "mark": {"type": "rect", "opacity": 0}, "encoding": {}, "view": {"fill": "black"}}
    ], "spacing": 0}
  ], "spacing": 0},
  {"hconcat": [
    {"width": 1, "height": 359, "data": {"values": [{}]}, "mark": {"type": "rect", "opacity": 0}, "encoding": {}, "view": {"fill": "black"}},
    {"hconcat": [
      {"vconcat": [
        {"width": 14, "height": 182, "data": {"values": [{}]}, "mark": {"type": "rect", "opacity": 0}, "encoding": {}},
        {"width": 14, "height": 40, "data": {"values": [{}]}, "mark": {"type": "text", "text": "h(z)", "angle": 270, "fontSize": 10, "color": "black"}}
      ], "spacing": 0},
      {"vconcat": [
        {"width": 1, "height": 49, "data": {"values": [{}]}, "mark": {"type": "rect", "opacity": 0}, "encoding": {}},
        {"concat": [
          {"vconcat": [
            {"width": 267, "height": 15, "data": {"values": [{}]}, "mark": {"type": "text", "text": "PFOA", "fontSize": 9, "color": "#1A1A1A"}, "view": {"fill": "#D9D9D9"}},
            {"width": 267, "height": 127, "data": {"name": "q4"}, "transform": [{"filter": {"field": "panel", "equal": "PFOA"}}], "view": {"fill": "#EBEBEB"},
             "layer": [
              {"mark": {"type": "area", "fill": "#999999", "opacity": 0.4, "interpolate": "monotone"},
               "encoding": {"x": {"field": "z", "type": "quantitative", "scale": {"domain": [-2.14, 21.26], "nice": false, "zero": false}, "axis": {"orient": "bottom", "values": [2.5, 7.5, 12.5, 17.5], "gridWidth": 0.6, "labels": false, "ticks": false, "title": null}},
                            "y": {"field": "lo", "type": "quantitative", "scale": {"domain": [-0.92, 0.72], "nice": false, "zero": false}, "axis": {"orient": "left", "values": [-0.75, -0.25, 0.25], "gridWidth": 0.6, "labels": false, "ticks": false, "title": null}},
                            "y2": {"field": "hi"}}},
              {"mark": {"type": "line", "color": "#3366FF", "strokeWidth": 1.8, "interpolate": "monotone"},
               "encoding": {"x": {"field": "z", "type": "quantitative", "scale": {"domain": [-2.14, 21.26], "nice": false, "zero": false}, "axis": {"orient": "bottom", "values": [0, 5, 10, 15, 20], "gridWidth": 1.2, "labels": false, "ticks": false, "title": null}},
                            "y": {"field": "est", "type": "quantitative", "scale": {"domain": [-0.92, 0.72], "nice": false, "zero": false}, "axis": {"orient": "left", "values": [-0.5, 0, 0.5], "gridWidth": 1.2, "format": ".1f", "title": null}}}}
             ],
             "resolve": {"axis": {"x": "independent", "y": "independent"}}}
          ], "spacing": 0},
          {"vconcat": [
            {"width": 267, "height": 15, "data": {"values": [{}]}, "mark": {"type": "text", "text": "PFOS", "fontSize": 9, "color": "#1A1A1A"}, "view": {"fill": "#D9D9D9"}},
            {"width": 267, "height": 127, "data": {"name": "q4"}, "transform": [{"filter": {"field": "panel", "equal": "PFOS"}}], "view": {"fill": "#EBEBEB"},
             "layer": [
              {"mark": {"type": "area", "fill": "#999999", "opacity": 0.4, "interpolate": "monotone"},
               "encoding": {"x": {"field": "z", "type": "quantitative", "scale": {"domain": [-2.14, 21.26], "nice": false, "zero": false}, "axis": {"orient": "bottom", "values": [2.5, 7.5, 12.5, 17.5], "gridWidth": 0.6, "labels": false, "ticks": false, "title": null}},
                            "y": {"field": "lo", "type": "quantitative", "scale": {"domain": [-0.92, 0.72], "nice": false, "zero": false}, "axis": {"orient": "left", "values": [-0.75, -0.25, 0.25], "gridWidth": 0.6, "labels": false, "ticks": false, "title": null}},
                            "y2": {"field": "hi"}}},
              {"mark": {"type": "line", "color": "#3366FF", "strokeWidth": 1.8, "interpolate": "monotone"},
               "encoding": {"x": {"field": "z", "type": "quantitative", "scale": {"domain": [-2.14, 21.26], "nice": false, "zero": false}, "axis": {"orient": "bottom", "values": [0, 5, 10, 15, 20], "gridWidth": 1.2, "labels": false, "ticks": false, "title": null}},
                            "y": {"field": "est", "type": "quantitative", "scale": {"domain": [-0.92, 0.72], "nice": false, "zero": false}, "axis": {"orient": "left", "values": [-0.5, 0, 0.5], "gridWidth": 1.2, "labels": false, "ticks": false, "title": null}}}}
             ],
             "resolve": {"axis": {"x": "independent", "y": "independent"}}}
          ], "spacing": 0},
          {"vconcat": [
            {"width": 267, "height": 15, "data": {"values": [{}]}, "mark": {"type": "text", "text": "PFNA", "fontSize": 9, "color": "#1A1A1A"}, "view": {"fill": "#D9D9D9"}},
            {"width": 267, "height": 125, "data": {"name": "q4"}, "transform": [{"filter": {"field": "panel", "equal": "PFNA"}}], "view": {"fill": "#EBEBEB"},
             "layer": [
              {"mark": {"type": "area", "fill": "#999999", "opacity": 0.4, "interpolate": "monotone"},
               "encoding": {"x": {"field": "z", "type": "quantitative", "scale": {"domain": [-2.14, 21.26], "nice": false, "zero": false}, "axis": {"orient": "bottom", "values": [2.5, 7.5, 12.5, 17.5], "gridWidth": 0.6, "labels": false, "ticks": false, "title": null}},
                            "y": {"field": "lo", "type": "quantitative", "scale": {"domain": [-0.92, 0.72], "nice": false, "zero": false}, "axis": {"orient": "left", "values": [-0.75, -0.25, 0.25], "gridWidth": 0.6, "labels": false, "ticks": false, "title": null}},
                            "y2": {"field": "hi"}}},
              {"mark": {"type": "line", "color": "#3366FF", "strokeWidth": 1.8, "interpolate": "monotone"},
               "encoding": {"x": {"field": "z", "type": "quantitative", "scale": {"domain": [-2.14, 21.26], "nice": false, "zero": false}, "axis": {"orient": "bottom", "values": [0, 5, 10, 15, 20], "gridWidth": 1.2, "format": "d", "title": null}},
                            "y": {"field": "est", "type": "quantitative", "scale": {"domain": [-0.92, 0.72], "nice": false, "zero": false}, "axis": {"orient": "left", "values": [-0.5, 0, 0.5], "gridWidth": 1.2, "format": ".1f", "title": null}}}}
             ],
             "resolve": {"axis": {"x": "independent", "y": "independent"}}}
          ], "spacing": 0},
          {"vconcat": [
            {"width": 267, "height": 15, "data": {"values": [{}]}, "mark": {"type": "text", "text": "PFHxS", "fontSize": 9, "color": "#1A1A1A"}, "view": {"fill": "#D9D9D9"}},
            {"width": 267, "height": 125, "data": {"name": "q4"}, "transform": [{"filter": {"field": "panel", "equal": "PFHxS"}}], "view": {"fill": "#EBEBEB"},
             "layer": [
              {"mark": {"type": "area", "fill": "#999999", "opacity": 0.4, "interpolate": "monotone"},
               "encoding": {"x": {"field": "z", "type": "quantitative", "scale": {"domain": [-2.14, 21.26], "nice": false, "zero": false}, "axis": {"orient": "bottom", "values": [2.5, 7.5, 12.5, 17.5], "gridWidth": 0.6, "labels": false, "ticks": false, "title": null}},
                            "y": {"field": "lo", "type": "quantitative", "scale": {"domain": [-0.92, 0.72], "nice": false, "zero": false}, "axis": {"orient": "left", "values": [-0.75, -0.25, 0.25], "gridWidth": 0.6, "labels": false, "ticks": false, "title": null}},
                            "y2": {"field": "hi"}}},
              {"mark": {"type": "line", "color": "#3366FF", "strokeWidth": 1.8, "interpolate": "monotone"},
               "encoding": {"x": {"field": "z", "type": "quantitative", "scale": {"domain": [-2.14, 21.26], "nice": false, "zero": false}, "axis": {"orient": "bottom", "values": [0, 5, 10, 15, 20], "gridWidth": 1.2, "format": "d", "title": null}},
                            "y": {"field": "est", "type": "quantitative", "scale": {"domain": [-0.92, 0.72], "nice": false, "zero": false}, "axis": {"orient": "left", "values": [-0.5, 0, 0.5], "gridWidth": 1.2, "labels": false, "ticks": false, "title": null}}}}
             ],
             "resolve": {"axis": {"x": "independent", "y": "independent"}}}
          ], "spacing": 0}
        ], "columns": 2, "align": "each", "spacing": {"row": 6, "column": 6}},
        {"width": 540, "height": 4, "data": {"values": [{}]}, "mark": {"type": "text", "text": "z", "fontSize": 10, "color": "black"}}
      ], "spacing": 0}
    ], "spacing": 3.6}
  ], "spacing": 30.6}
 ], "spacing": 0}
], "spacing": 0}
]
}
